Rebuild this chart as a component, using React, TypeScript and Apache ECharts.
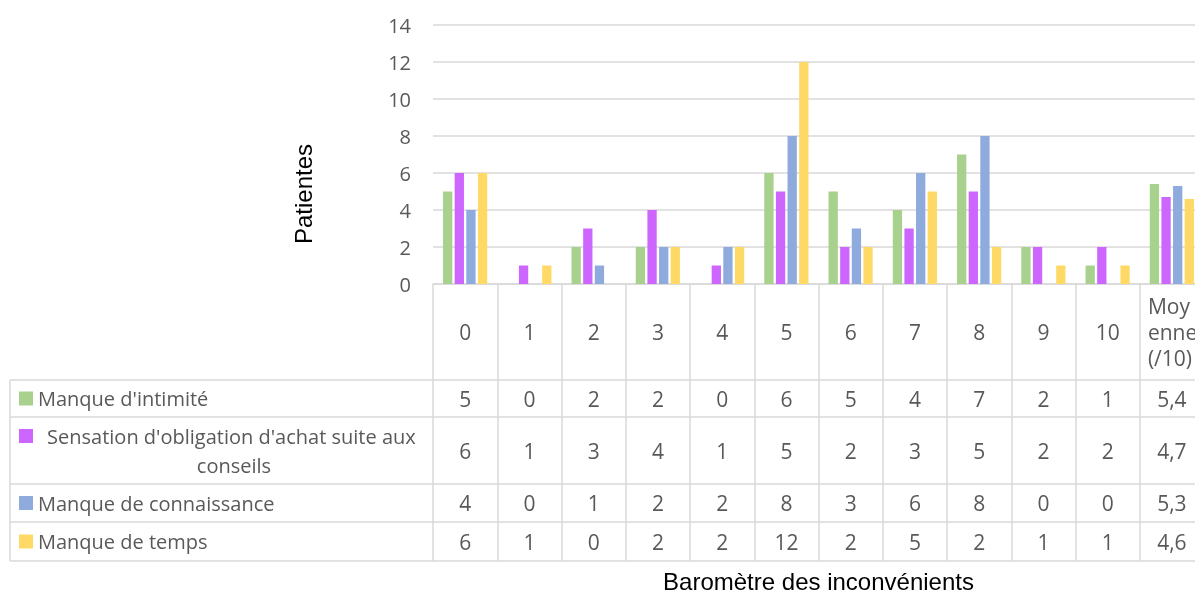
import React, { useEffect, useRef } from "react";
import * as echarts from "echarts";

const categories = ["0", "1", "2", "3", "4", "5", "6", "7", "8", "9", "10", "Moyenne (/10)"];
const seriesNames = [
  "Manque d'intimité",
  "Sensation d'obligation d'achat suite aux conseils",
  "Manque de connaissance",
  "Manque de temps",
];
const intimite = [5, 0, 2, 2, 0, 6, 5, 4, 7, 2, 1, 5.4];
const obligation = [6, 1, 3, 4, 1, 5, 2, 3, 5, 2, 2, 4.7];
const connaissance = [4, 0, 1, 2, 2, 8, 3, 6, 8, 0, 0, 5.3];
const temps = [6, 1, 0, 2, 2, 12, 2, 5, 2, 1, 1, 4.6];
const yMin = 0;
const yMax = 14;
const yInterval = 2;
const colors = ["#A9D18E", "#CC66FF", "#8FAADC", "#FFD966"];
const xTitle = "Baromètre des inconvénients";
const yTitle = "Patientes";

// layout
const CANVAS_W = 1212;
const CANVAS_H = 596;
const GRID_LEFT = 433;
const GRID_TOP = 25;
const AXIS_Y = 284;
const GRID_WIDTH = 771;
const ROW_LINES = [380, 417, 484, 522, 561];
const TABLE_LEFT = 10;
const TEXT_COLOR = "#595959";
const LINE_COLOR = "#D9D9D9";
const TABLE_FONT = "Open Sans";
const TABLE_SIZE = 21;
const LEGEND_SIZE = 20;
const LINE_H = 29;
const HEADER_LINE_H = 26;

const fmt = (v: number) => (Number.isInteger(v) ? String(v) : v.toFixed(1).replace(".", ","));

export default function App() {
  const ref = useRef<HTMLDivElement>(null);
  useEffect(() => {
    const el = ref.current!;
    const chart = echarts.init(el, null, { renderer: "svg" });
    const seriesData = [intimite, obligation, connaissance, temps];
    chart.setOption({
      animation: false,
      grid: { left: GRID_LEFT, top: GRID_TOP, width: GRID_WIDTH, height: AXIS_Y - GRID_TOP },
      xAxis: {
        type: "category",
        data: categories,
        name: xTitle,
        nameLocation: "middle",
        nameGap: 285,
        nameTextStyle: { fontFamily: "Liberation Sans", fontSize: 24, color: "#000" },
        axisLine: { show: true, lineStyle: { color: LINE_COLOR, width: 1.5 } },
        axisTick: {
          show: true,
          interval: 0,
          length: ROW_LINES[ROW_LINES.length - 1] - AXIS_Y,
          lineStyle: { color: LINE_COLOR, width: 1.5 },
        },
        axisLabel: { show: false },
      },
      yAxis: {
        type: "value",
        min: yMin,
        max: yMax,
        interval: yInterval,
        axisLine: { show: false },
        axisTick: { show: false },
        axisLabel: { margin: 22, fontFamily: TABLE_FONT, fontSize: 20, color: TEXT_COLOR },
        splitLine: { lineStyle: { color: LINE_COLOR, width: 1.5 } },
      },
      series: seriesNames.map((name, i) => ({
        name,
        type: "bar",
        data: seriesData[i],
        barWidth: 9.3,
        barGap: "25%",
        itemStyle: { color: colors[i] },
      })),
    });

    const xs = categories.map((_, i) => chart.convertToPixel({ xAxisIndex: 0 }, i) as number);
    const colW = xs.length > 1 ? xs[1] - xs[0] : 64;

    const cv = document.createElement("canvas").getContext("2d")!;
    const legendTextLeft = 38;
    const legendAvail = 392;

    // greedy character wrap
    const wrapChars = (s: string, maxW: number) => {
      const lines: string[] = [];
      let cur = "";
      for (const ch of s) {
        const next = cur + ch;
        if (cur && cv.measureText(next.trimEnd()).width > maxW) {
          lines.push(cur.trim());
          cur = ch === " " ? "" : ch;
        } else {
          cur = next;
        }
      }
      if (cur.trim()) lines.push(cur.trim());
      return lines.join("\n");
    };

    const elements: any[] = [];
    ROW_LINES.forEach((y) => {
      elements.push({
        type: "line",
        shape: { x1: TABLE_LEFT, y1: y, x2: CANVAS_W, y2: y },
        style: { stroke: LINE_COLOR, lineWidth: 1.5 },
      });
    });
    elements.push({
      type: "line",
      shape: { x1: TABLE_LEFT, y1: ROW_LINES[0], x2: TABLE_LEFT, y2: ROW_LINES[ROW_LINES.length - 1] },
      style: { stroke: LINE_COLOR, lineWidth: 1.5 },
    });

    // header row: category labels
    cv.font = `${TABLE_SIZE}px "${TABLE_FONT}"`;
    const headerY = (AXIS_Y + ROW_LINES[0]) / 2;
    categories.forEach((c, i) => {
      const wide = cv.measureText(c).width > colW - 8;
      elements.push({
        type: "text",
        x: wide ? xs[i] - 24 : xs[i],
        y: headerY,
        style: {
          text: wide ? wrapChars(c, 52) : c,
          lineHeight: HEADER_LINE_H,
          align: wide ? "left" : "center",
          verticalAlign: "middle",
          fill: TEXT_COLOR,
          font: `${TABLE_SIZE}px "${TABLE_FONT}"`,
        },
      });
    });

    cv.font = `${LEGEND_SIZE}px "${TABLE_FONT}"`;
    seriesNames.forEach((name, i) => {
      const top = ROW_LINES[i];
      const bottom = ROW_LINES[i + 1];
      const cy = (top + bottom) / 2;
      const w = cv.measureText(name).width;
      const wrapped = w > legendAvail;
      const firstLineY = wrapped ? cy - LINE_H / 2 : cy;
      elements.push({
        type: "rect",
        shape: { x: 19, y: firstLineY - 7, width: 14, height: 14 },
        style: { fill: colors[i] },
      });
      elements.push({
        type: "text",
        x: wrapped ? legendTextLeft + legendAvail / 2 : legendTextLeft,
        y: cy,
        style: {
          text: name,
          width: legendAvail,
          overflow: "break",
          lineHeight: LINE_H,
          align: wrapped ? "center" : "left",
          verticalAlign: "middle",
          fill: TEXT_COLOR,
          font: `${LEGEND_SIZE}px "${TABLE_FONT}"`,
        },
      });
      seriesData[i].forEach((v, j) => {
        elements.push({
          type: "text",
          x: xs[j],
          y: cy,
          style: {
            text: fmt(v),
            align: "center",
            verticalAlign: "middle",
            fill: TEXT_COLOR,
            font: `${TABLE_SIZE}px "${TABLE_FONT}"`,
          },
        });
      });
    });

    elements.push({
      type: "text",
      x: 303,
      y: 194,
      rotation: Math.PI / 2,
      style: {
        text: yTitle,
        align: "center",
        verticalAlign: "middle",
        fill: "#000",
        font: `24px "Liberation Sans"`,
      },
    });

    chart.setOption({ graphic: elements });
    return () => chart.dispose();
  }, []);
  return (
    <div
      ref={ref}
      style={{ position: "fixed", left: 0, top: 0, width: CANVAS_W, height: CANVAS_H }}
    />
  );
}
